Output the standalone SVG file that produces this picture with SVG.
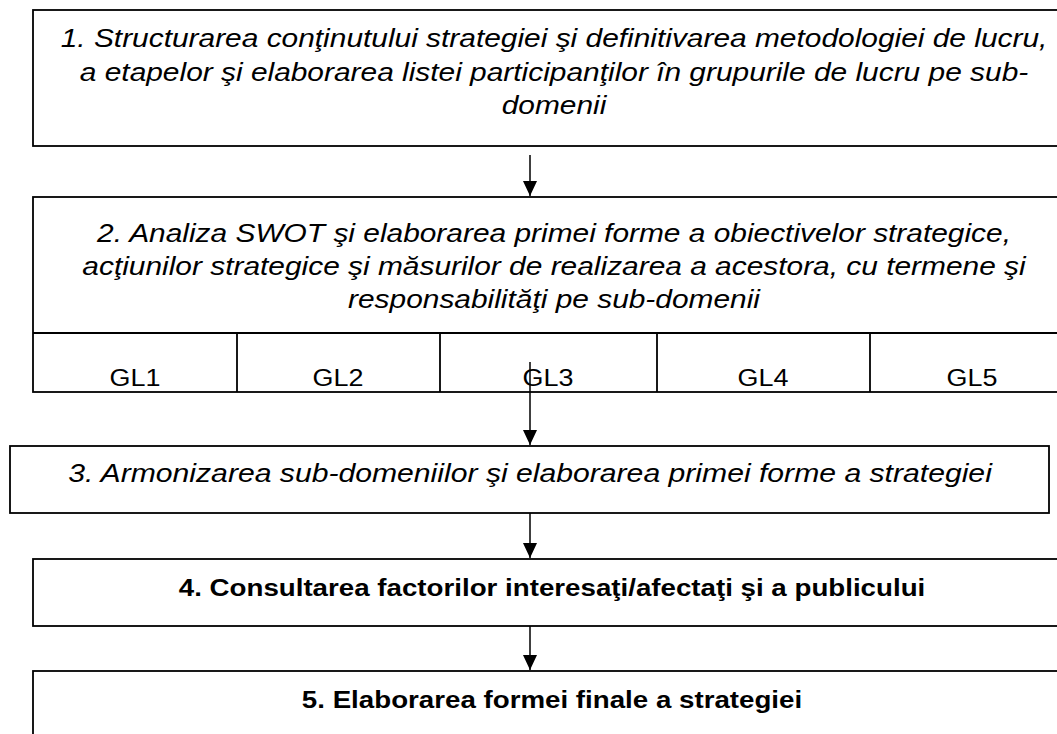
<svg xmlns="http://www.w3.org/2000/svg" width="1057" height="734" viewBox="0 0 1057 734">
<style>
.box{fill:#fff;stroke:#000;stroke-width:1.8}
.ln{stroke:#000;stroke-width:1.8;fill:none}
.ar{stroke:#000;stroke-width:1.5;fill:none}
.t{font-family:"Liberation Sans",Arial,sans-serif;font-size:26px;font-style:italic;text-anchor:middle;fill:#000}
.b{font-family:"Liberation Sans",Arial,sans-serif;font-size:24px;font-weight:bold;text-anchor:middle;fill:#000}
.g{font-family:"Liberation Sans",Arial,sans-serif;font-size:23px;text-anchor:middle;fill:#000}
</style>
<defs>
<marker id="ah" markerWidth="15" markerHeight="14" refX="15" refY="7" orient="auto" markerUnits="userSpaceOnUse" viewBox="0 0 15 14">
<path d="M0,0 L15,7 L0,14 Z" fill="#000"/>
</marker>
</defs>
<rect width="1057" height="734" fill="#fff"/>
<g id="node1">
<rect class="box" x="33" y="10" width="1042" height="136"/>
<text class="t" transform="matrix(1.15 0 0 1 554 0)" x="0" y="47">1. Structurarea conţinutului strategiei şi definitivarea metodologiei de lucru,</text>
<text class="t" transform="matrix(1.15 0 0 1 554 0)" x="0" y="81">a etapelor şi elaborarea listei participanţilor în grupurile de lucru pe sub-</text>
<text class="t" transform="matrix(1.15 0 0 1 554 0)" x="0" y="114">domenii</text>
</g>
<g id="node2">
<rect class="box" x="33" y="197" width="1042" height="195"/>
<line class="ln" x1="33" y1="333" x2="1075" y2="333"/>
<line class="ln" x1="237" y1="333" x2="237" y2="392"/>
<line class="ln" x1="440" y1="333" x2="440" y2="392"/>
<line class="ln" x1="657" y1="333" x2="657" y2="392"/>
<line class="ln" x1="870" y1="333" x2="870" y2="392"/>
<text class="t" transform="matrix(1.15 0 0 1 554 0)" x="0" y="242">2. Analiza SWOT şi elaborarea primei forme a obiectivelor strategice,</text>
<text class="t" transform="matrix(1.15 0 0 1 554 0)" x="0" y="275">acţiunilor strategice şi măsurilor de realizarea a acestora, cu termene şi</text>
<text class="t" transform="matrix(1.15 0 0 1 554 0)" x="0" y="308">responsabilităţi pe sub-domenii</text>
<text class="g" transform="matrix(1.17 0 0 1 135 0)" x="0" y="386">GL1</text>
<text class="g" transform="matrix(1.17 0 0 1 338 0)" x="0" y="386">GL2</text>
<text class="g" transform="matrix(1.17 0 0 1 548 0)" x="0" y="386">GL3</text>
<text class="g" transform="matrix(1.17 0 0 1 763 0)" x="0" y="386">GL4</text>
<text class="g" transform="matrix(1.17 0 0 1 972 0)" x="0" y="386">GL5</text>
</g>
<g id="node3">
<rect class="box" x="10" y="446" width="1039" height="67"/>
<text class="t" transform="matrix(1.16 0 0 1 530 0)" x="0" y="482">3. Armonizarea sub-domeniilor şi elaborarea primei forme a strategiei</text>
</g>
<g id="node4">
<rect class="box" x="33" y="559" width="1042" height="67"/>
<text class="b" transform="matrix(1.155 0 0 1 552 0)" x="0" y="596">4. Consultarea factorilor interesaţi/afectaţi şi a publicului</text>
</g>
<g id="node5">
<rect class="box" x="33" y="671" width="1042" height="80"/>
<text class="b" transform="matrix(1.155 0 0 1 552 0)" x="0" y="708">5. Elaborarea formei finale a strategiei</text>
</g>
<g id="connectors">
<line class="ar" x1="530" y1="155" x2="530" y2="196" marker-end="url(#ah)"/>
<line class="ar" x1="530" y1="362" x2="530" y2="445" marker-end="url(#ah)"/>
<line class="ar" x1="530" y1="513" x2="530" y2="558" marker-end="url(#ah)"/>
<line class="ar" x1="530" y1="626" x2="530" y2="670" marker-end="url(#ah)"/>
</g>
</svg>
